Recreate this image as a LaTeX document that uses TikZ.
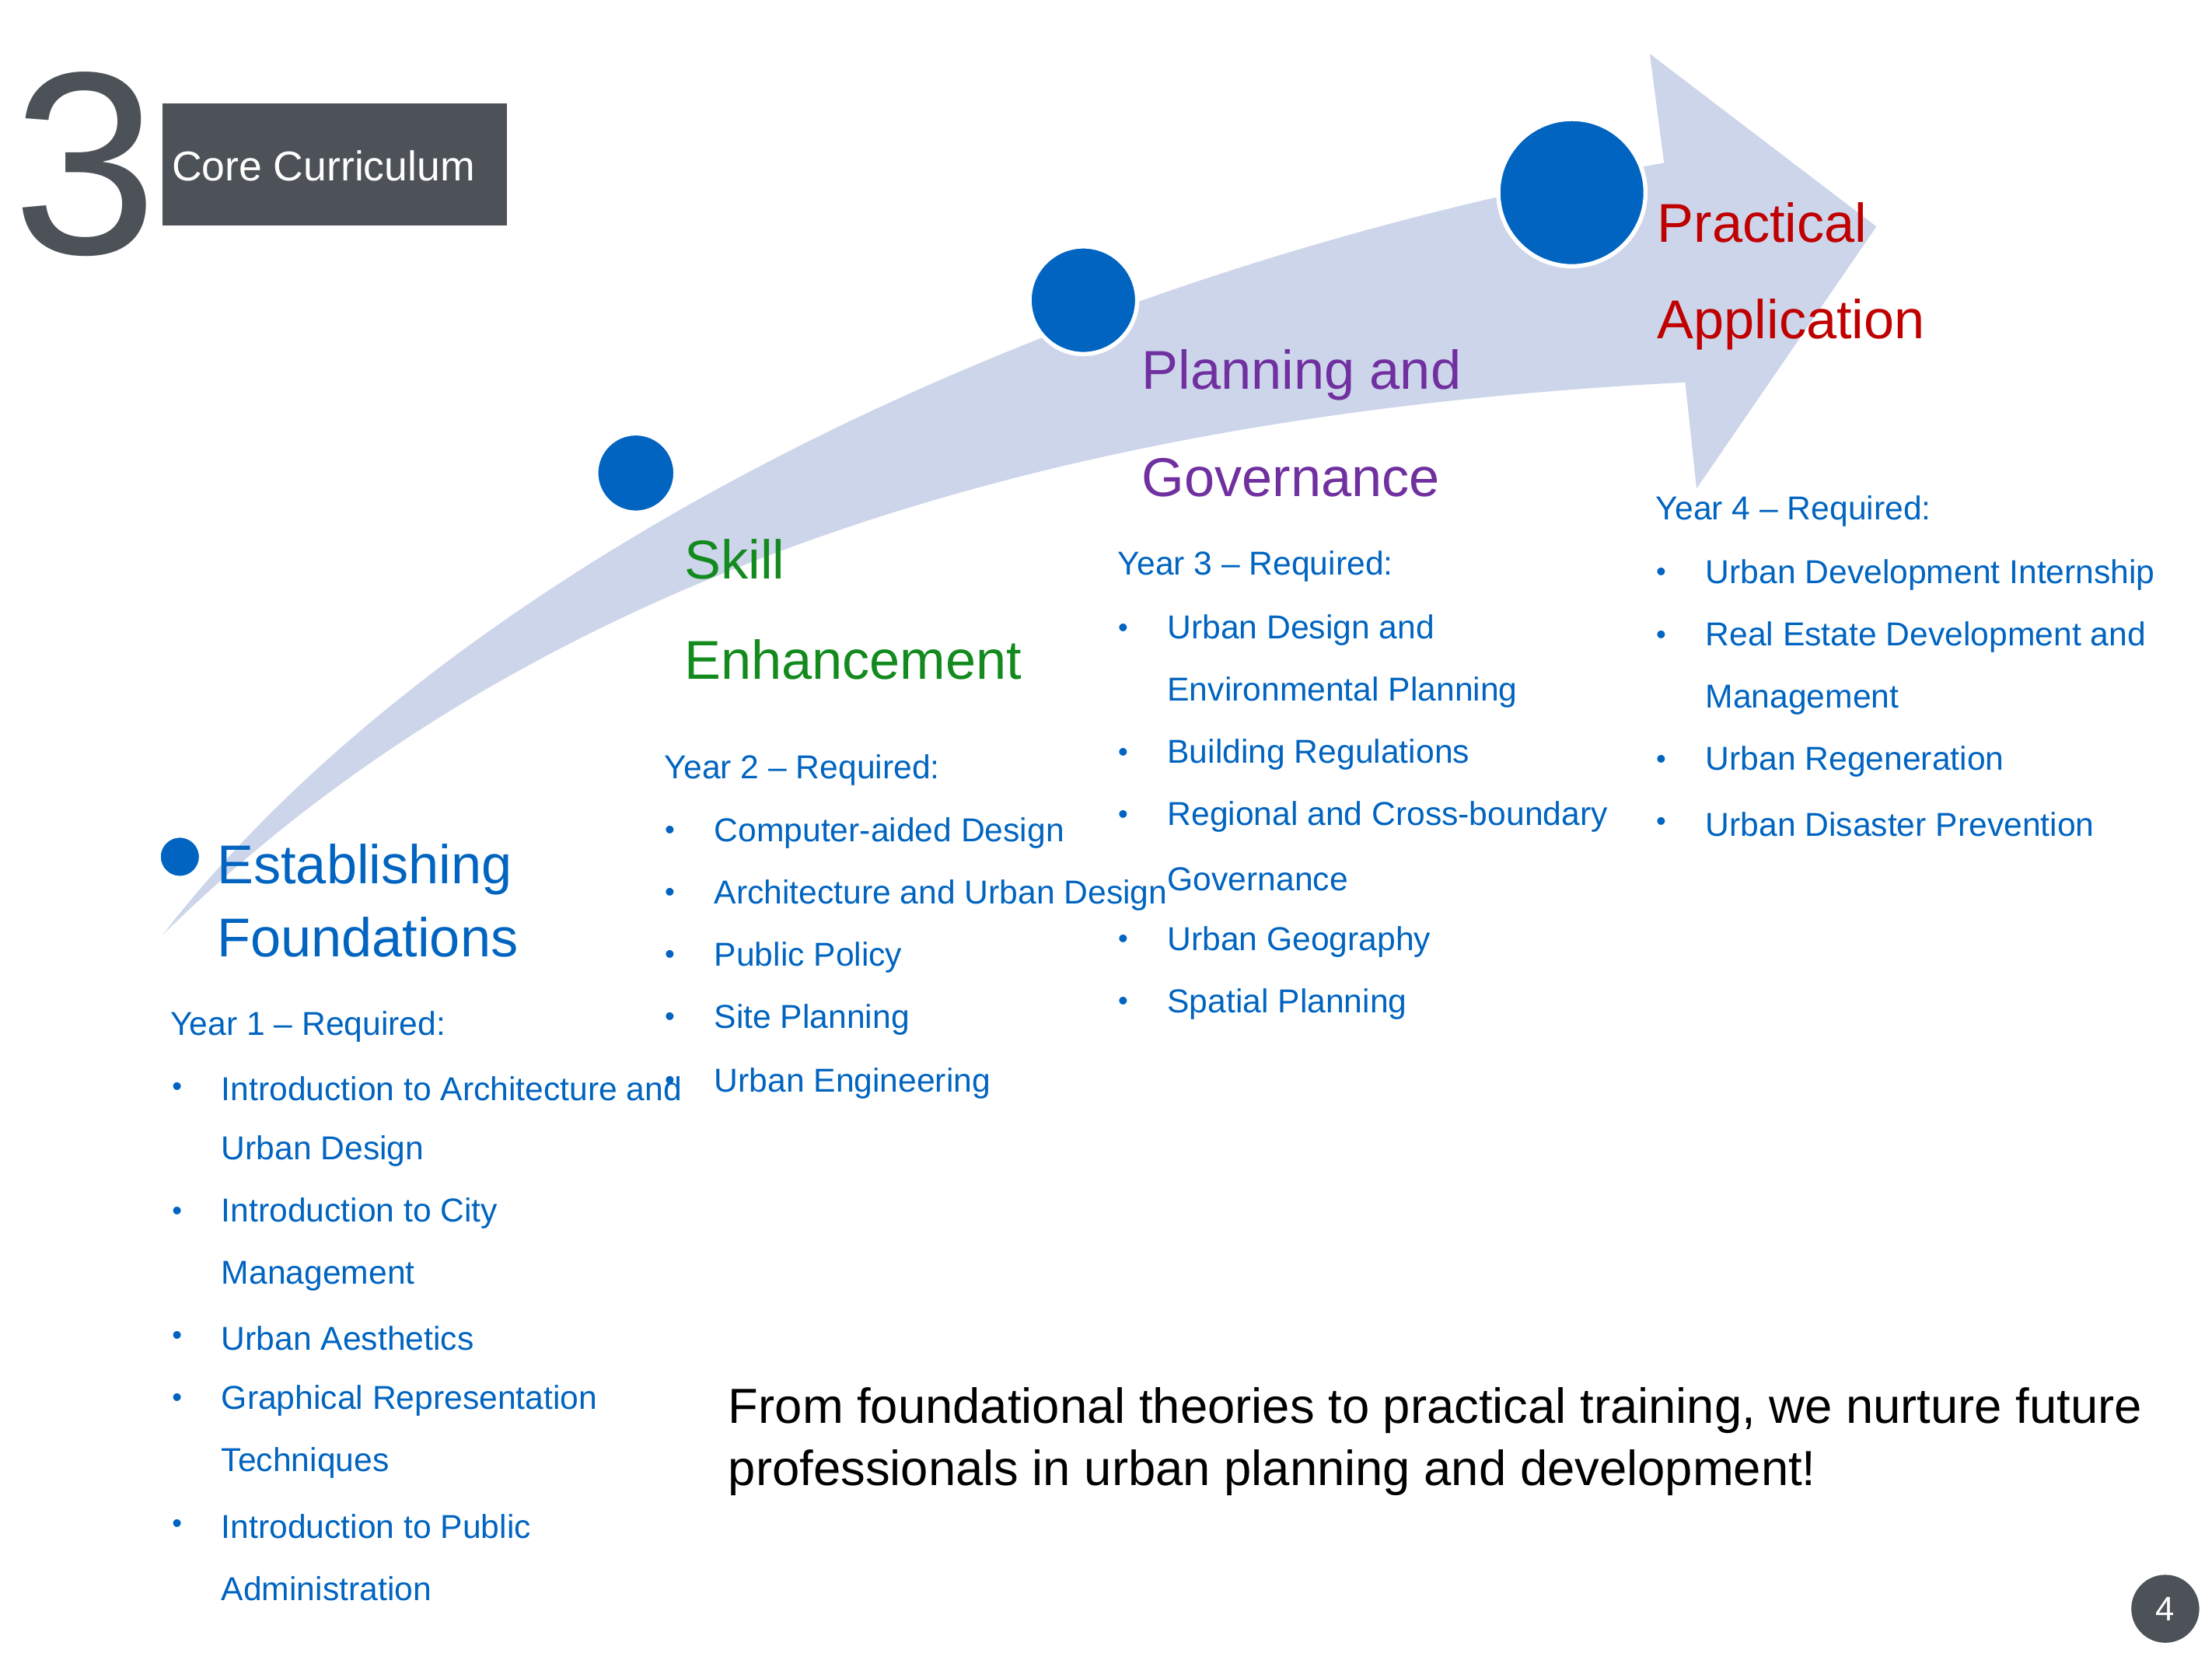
\documentclass[tikz,border=0pt]{standalone}
\usepackage{fontspec}
\setmainfont{Liberation Sans}
\definecolor{myblue}{HTML}{0064C0}
\definecolor{mygreen}{HTML}{138A1E}
\definecolor{mypurple}{HTML}{7030A0}
\definecolor{myred}{HTML}{C00000}
\definecolor{band}{HTML}{CDD5EA}
\definecolor{dark}{HTML}{4D5259}
\begin{document}
\begin{tikzpicture}[x=0.5pt,y=-0.5pt,
  title/.style={anchor=west,font=\fontsize{19.3}{24}\selectfont,inner sep=0pt},
  item/.style={anchor=west,font=\fontsize{11.7}{14}\selectfont,text=myblue,inner sep=0pt},
  bul/.style={anchor=center,font=\fontsize{10}{12}\selectfont,text=myblue,inner sep=0pt},
  dot/.style={circle,fill=myblue,draw=white,line width=1.5pt,inner sep=0pt}]
\useasboundingbox (0,0) rectangle (1562,1172);
\fill[band] (115,660) .. controls (300,420) and (700,200) .. (1175,115) -- (1165,38) -- (1325,160) -- (1198,345) -- (1190,270) .. controls (800,290) and (400,380) .. (115,660) -- cycle;
\node[dot,minimum size=15pt] (c1) at (127,605) {};
\node[dot,minimum size=28pt] (c2) at (449,334) {};
\node[dot,minimum size=38pt] (c3) at (765,212) {};
\node[dot,minimum size=52pt] (c4) at (1110,136) {};
\node[anchor=center,text=dark,font=\fontsize{92}{92}\selectfont,inner sep=0pt] (three) at (60,116) {3};
\node[fill=dark,minimum width=121.5pt,minimum height=43pt,inner sep=0pt] (box) at (236.5,116) {};
\node[anchor=west,text=white,font=\fontsize{14.7}{18}\selectfont,inner sep=0pt] (cc) at (121,117) {Core Curriculum};
% Year 1
\node[title,text=myblue] (t1a) at (153,614) {Establishing};
\node[title,text=myblue] (t1b) at (153,662) {Foundations};
\node[item] (y1) at (120,725) {Year 1 – Required:};
\foreach \y/\t/\b in {769/Introduction to Architecture and/1,813/Urban Design/0,857/Introduction to City/1,901/Management/0,945/Urban Aesthetics/1,989/Graphical Representation/1,1033/Techniques/0,1078/Introduction to Public/1,1122/Administration/0}{
  \node[item] at (156,\y) {\t};
  \ifnum\b=1 \node[bul] at (125,\y) {•};\fi}
% Year 2
\node[title,text=mygreen] (t2a) at (483,395) {Skill};
\node[title,text=mygreen] (t2b) at (483,466) {Enhancement};
\node[item] (y2) at (469,544) {Year 2 – Required:};
\foreach \y/\t in {588/Computer-aided Design,632/Architecture and Urban Design,676/Public Policy,720/Site Planning,765/Urban Engineering}{
  \node[item] at (504,\y) {\t};
  \node[bul] at (473,\y) {•};}
% Year 3
\node[title,text=mypurple] (t3a) at (806,265) {Planning and};
\node[title,text=mypurple] (t3b) at (806,337) {Governance};
\node[item] (y3) at (789,400) {Year 3 – Required:};
\foreach \y/\t/\b in {445/Urban Design and/1,489/Environmental Planning/0,533/Building Regulations/1,577/Regional and Cross-boundary/1,621/Governance/0,665/Urban Geography/1,709/Spatial Planning/1}{
  \node[item] at (824,\y) {\t};
  \ifnum\b=1 \node[bul] at (793,\y) {•};\fi}
% Year 4
\node[title,text=myred] (t4a) at (1170,157) {Practical};
\node[title,text=myred] (t4b) at (1170,229) {Application};
\node[item] (y4) at (1169,361) {Year 4 – Required:};
\foreach \y/\t/\b in {406/Urban Development Internship/1,450/Real Estate Development and/1,494/Management/0,538/Urban Regeneration/1,582/Urban Disaster Prevention/1}{
  \node[item] at (1204,\y) {\t};
  \ifnum\b=1 \node[bul] at (1173,\y) {•};\fi}
% bottom
\node[anchor=west,font=\fontsize{17.4}{22}\selectfont,inner sep=0pt] (m1) at (514,996) {From foundational theories to practical training, we nurture future};
\node[anchor=west,font=\fontsize{17.4}{22}\selectfont,inner sep=0pt] (m2) at (514,1040) {professionals in urban planning and development!};
\node[circle,fill=dark,minimum size=24pt,inner sep=0pt,text=white,font=\fontsize{12}{14}\selectfont] (pg) at (1529,1136) {4};
\end{tikzpicture}
\end{document}
